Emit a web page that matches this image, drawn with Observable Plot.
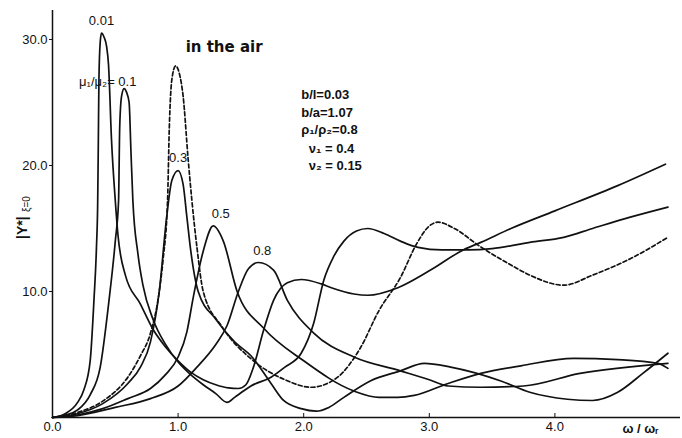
<!DOCTYPE html>
<html><head><meta charset="utf-8">
<script src="https://cdn.jsdelivr.net/npm/d3@7"></script>
<script src="https://cdn.jsdelivr.net/npm/@observablehq/plot@0.6"></script>
<style>
body{margin:0;background:#fff;}
svg{font-family:"Liberation Sans",Arial,sans-serif;}
</style></head>
<body><div id="chart"></div>
<script>
// curve values: [omega/omega_r, |Y*|]
const mu001 = [[0,0],[0.1,0.3],[0.2,1.2],[0.25,2.2],[0.3,4.5],[0.33,9.3],[0.35,13.5],[0.36,17.2],[0.365,22],[0.37,27],[0.38,29.8],[0.39,30.5],[0.41,30.2],[0.43,29.5],[0.446,28],[0.47,22],[0.5,17.2],[0.52,14.6],[0.58,11.3],[0.7,9.0],[0.8,7.0],[0.9,5.6],[1.0,4.5],[1.1,3.6],[1.2,3.0],[1.3,2.6],[1.4,2.35],[1.48,2.3],[1.54,2.6],[1.6,4.0],[1.68,6.9],[1.76,9.3],[1.87,10.7],[1.98,10.95],[2.14,10.6],[2.22,10.3],[2.4,9.8],[2.51,9.7],[2.75,10.3],[3.01,11.7],[3.27,13.3],[3.41,13.9],[3.65,15.0],[4.0,16.4],[4.5,18.4],[4.88,20.1]];
const mu01 = [[0,0],[0.1,0.2],[0.2,0.6],[0.3,1.8],[0.38,4],[0.45,9.3],[0.5,14],[0.526,17.2],[0.535,23],[0.55,25.5],[0.57,26.1],[0.59,25.8],[0.61,25.0],[0.625,21],[0.64,17.2],[0.68,13],[0.72,10.5],[0.8,7.8],[0.9,5.8],[1.0,4.4],[1.1,3.4],[1.2,2.6],[1.3,1.9],[1.39,1.2],[1.45,1.6],[1.52,2.1],[1.58,2.5],[1.74,3.2],[1.85,4.0],[1.98,5.1],[2.08,7.5],[2.16,10.9],[2.24,12.8],[2.32,14.0],[2.42,14.8],[2.51,15.0],[2.64,14.6],[2.77,14.0],[2.91,13.5],[3.1,13.3],[3.31,13.3],[3.5,13.4],[3.8,13.9],[4.07,14.3],[4.3,15.0],[4.6,15.9],[4.9,16.7]];
const mu03 = [[0,0],[0.2,0.3],[0.4,1.1],[0.6,2.7],[0.7,4.0],[0.78,6.0],[0.85,10],[0.91,16],[0.95,18.8],[1.0,19.6],[1.04,18.5],[1.07,15.9],[1.1,13.3],[1.16,10],[1.3,7.8],[1.45,6.0],[1.58,4.9],[1.74,2.7],[1.84,1.35],[1.98,0.7],[2.1,0.5],[2.2,0.8],[2.32,1.6],[2.53,2.9],[2.77,3.7],[2.96,4.3],[3.17,4.0],[3.57,2.9],[3.8,2.0],[4.1,1.45],[4.3,1.35],[4.5,2.0],[4.7,3.5],[4.9,5.1]];
const mu05 = [[0,0],[0.2,0.2],[0.4,0.7],[0.6,1.5],[0.78,2.3],[0.9,3.4],[1.0,4.8],[1.07,6.8],[1.12,9.5],[1.2,13.2],[1.28,15.2],[1.36,14.0],[1.47,10],[1.68,7.1],[2.0,4.5],[2.4,2.1],[2.6,1.6],[2.75,1.6],[2.88,1.75],[3.15,2.7],[3.41,3.5],[3.73,4.1],[4.15,4.7],[4.5,4.6],[4.82,4.3],[4.9,3.9]];
const mu08 = [[0,0],[0.2,0.15],[0.5,0.8],[0.78,1.5],[1.0,2.5],[1.15,4.0],[1.3,5.8],[1.39,7.3],[1.48,10],[1.56,11.8],[1.64,12.3],[1.76,11.7],[1.87,9.3],[2.08,6.7],[2.4,4.8],[2.77,3.7],[3.0,3.0],[3.15,2.5],[3.41,2.4],[3.75,2.5],[4.2,3.5],[4.9,4.3]];
const inAir = [[0,0],[0.2,0.4],[0.4,1.3],[0.6,3.2],[0.7,4.9],[0.78,6.7],[0.85,10],[0.88,12.5],[0.916,17.2],[0.93,23],[0.95,26.8],[0.98,27.9],[1.01,27.3],[1.04,25.5],[1.08,20.5],[1.11,17.2],[1.15,13.5],[1.2,10.0],[1.35,7.2],[1.6,4.5],[1.85,3.0],[2.06,2.4],[2.27,3.2],[2.45,5.5],[2.6,8.5],[2.77,11.1],[2.9,13.8],[3.0,15.2],[3.07,15.5],[3.2,15.0],[3.4,13.6],[3.65,12.1],[3.8,11.3],[4.07,10.5],[4.3,11.3],[4.6,12.6],[4.9,14.3]];

const xTicks = [0,1,2,3,4];
const xTickLabels = ["0.0","1.0","2.0","3.0","4.0"];
const yTicks = [10,20,30];
const yTickLabels = ["10.0","20.0","30.0"];

const curveLabels = [
  {x:0.39, y:31.5, t:"0.01"},
  {x:0.44, y:26.6, t:"μ\u2081/μ\u2082= 0.1"},
  {x:1.0, y:20.6, t:"0.3"},
  {x:1.34, y:16.2, t:"0.5"},
  {x:1.67, y:13.25, t:"0.8"}
];
const params = ["b/l=0.03","b/a=1.07","ρ\u2081/ρ\u2082=0.8","ν\u2081 = 0.4","ν\u2082 = 0.15"];
const paramY = [25.6,24.2,22.8,21.3,20.0];
const paramX = [1.98,1.98,1.98,2.04,2.04];

const solid = [["0.01",mu001],["0.1",mu01],["0.3",mu03],["0.5",mu05],["0.8",mu08]]
  .flatMap(([k,arr]) => arr.map(([x,y]) => ({k,x,y})));
const dashed = inAir.map(([x,y]) => ({k:"air",x,y}));
const paramRows = params.map((t,i)=>({t,x:paramX[i],y:paramY[i]}));

const chart = Plot.plot({
  width:682, height:438,
  marginLeft:52, marginRight:2, marginTop:10, marginBottom:21,
  x:{domain:[0,5], label:null},
  y:{domain:[0,32.3], label:null},
  style:{fontSize:"12px", color:"#111"},
  marks:[
    Plot.axisX({ticks:xTicks, tickFormat:(d)=>xTickLabels[xTicks.indexOf(d)], tickSize:-4, tickPadding:8, fontSize:13, label:null}),
    Plot.axisY({ticks:yTicks, tickFormat:(d)=>yTickLabels[yTicks.indexOf(d)], tickSize:3, tickPadding:2, fontSize:13, label:null}),
    Plot.ruleX([0], {stroke:"#111", strokeWidth:1.5}),
    Plot.ruleY([0], {stroke:"#111", strokeWidth:1.5}),
    Plot.line(solid, {x:"x", y:"y", z:"k", curve:"monotone-x", stroke:"#111", strokeWidth:1.7}),
    Plot.line(dashed, {x:"x", y:"y", curve:"monotone-x", stroke:"#111", strokeWidth:1.7, strokeDasharray:"4,2.5"}),
    Plot.text(curveLabels, {x:"x", y:"y", text:"t", fontSize:13, fill:"#111"}),
    Plot.text(["in the air"], {x:1.06, y:29.4, text:d=>d, textAnchor:"start", fontSize:15, fontWeight:"bold", fill:"#111", fontFamily:"DejaVu Sans"}),
    Plot.text(paramRows, {x:"x", y:"y", text:"t", textAnchor:"start", fontSize:13, fontWeight:"bold", fill:"#111"}),
    Plot.text(["ω / ω\u1d63"], {frameAnchor:"bottom-right", dx:-22, dy:15, text:d=>d, fontSize:13, fontWeight:"bold", fill:"#111"}),
    Plot.text(["|Y*|"], {frameAnchor:"left", dx:-30, dy:25, rotate:-90, text:d=>d, fontSize:14, fontWeight:"bold", fill:"#111"}),
    Plot.text(["ξ=0"], {frameAnchor:"left", dx:-26, dy:-2, rotate:-90, text:d=>d, fontSize:10, fill:"#111"})
  ]
});
document.getElementById("chart").appendChild(chart);
</script></body></html>
